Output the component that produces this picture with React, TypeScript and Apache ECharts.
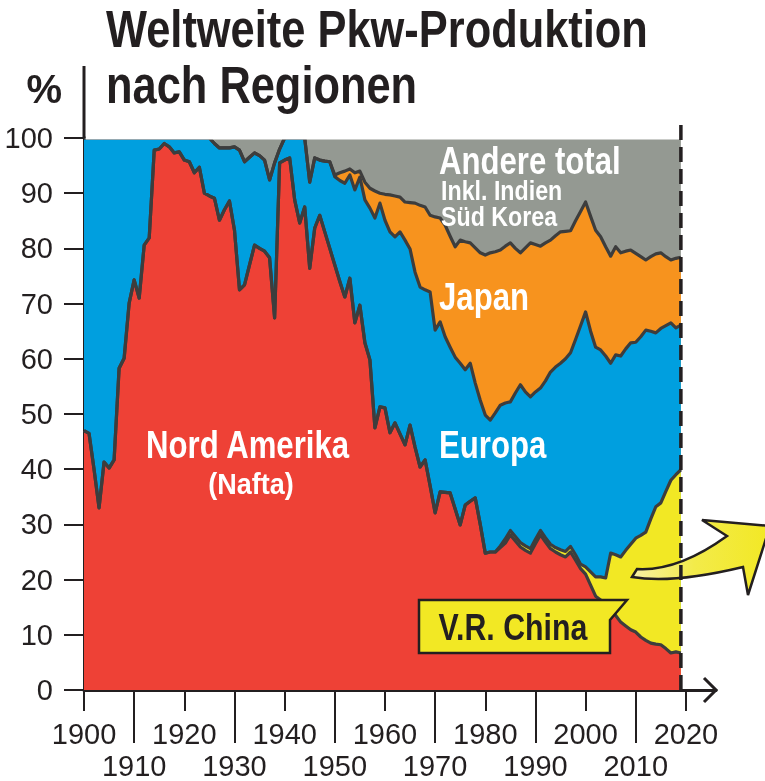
import React, { useEffect, useRef } from "react";
import * as echarts from "echarts";

// ---- data (percent of world car production), one value per year ----
const START_YEAR = 1900;
const LAST_YEAR = 2019;

// Nord Amerika share (bottom band)
const nordAmerika = [
  47, 46.5, 40, 33, 41.3, 40.2, 41.7, 58.3, 60.1, 70.1,
  74.3, 71, 80.6, 81.9, 97.8, 98, 99, 98.4, 97.3, 97.5,
  96, 95.7, 93.7, 94.7, 90, 89.5, 89.1, 85.1, 87, 88.6,
  83.3, 72.5, 73.4, 77, 80.6, 80, 79.5, 78.3, 67.4, 95.5,
  96, 96.4, 88.8, 84.6, 87.5, 76.4, 83.7, 86, 83, 80,
  77, 74, 71.2, 74.6, 66.5, 69.7, 62.9, 59.8, 47.5, 51.3,
  51.1, 46.6, 48.4, 46.4, 44.4, 48, 44, 40.4, 41.7, 37,
  32.1, 35.9, 35.8, 35.7, 32.8, 29.9, 33.5, 34.2, 34.8, 30,
  24.8, 25, 25, 25.8, 26.6, 28.1, 27, 25.9, 25.3, 24.8,
  26.5, 28.1, 26.8, 25.6, 25, 24.5, 24.1, 25, 23.5, 22,
  21, 19, 17, 16.3, 15.6, 15, 13.5, 12.3, 11.6, 10.9,
  10.5, 9.6, 9, 8.5, 8.3, 8.2, 7.5, 6.7, 6.9, 6.7,
];

// V.R. China share, from 1983 on (0 before)
const CHINA_FROM = 1983;
const china = [
  0.3, 0.8, 0.8, 0.8, 0.8, 0.8, 0.8,
  0.8, 0.8, 0.8, 0.8, 0.8, 0.9, 1.0, 1.0, 1.0, 0.8,
  1.3, 2.4, 3.5, 4.2, 4.7, 9.8, 11, 11.8, 13.7, 15.5,
  17, 18.4, 19.6, 22.5, 24.9, 25.7, 28.5, 31.3, 32.1, 33.2,
];

// upper edge of the Europa band (cumulative %)
const bisEuropa = [
  100, 100, 100, 100, 100, 100, 100, 100, 100, 100,
  100, 100, 100, 100, 100, 100, 100, 100, 100, 100,
  100, 100, 100, 100, 100, 100, 99, 98.2, 98.2, 98.2,
  98.4, 97.8, 95.7, 96.5, 97.3, 96.8, 96, 92.4, 95.5, 98,
  100, 100, 100, 100, 100, 92, 96.4, 96, 95.8, 95.7,
  93, 92.3, 91.8, 93.3, 90.6, 92.9, 88.8, 87.3, 85.5, 88.2,
  85.1, 83, 82.1, 83, 81.5, 79.9, 75.7, 73, 72.5, 72.1,
  65.2, 66.7, 64, 62.1, 60.3, 59.2, 58, 59.2, 55.6, 52.5,
  49.8, 48.9, 50.2, 51.6, 52, 52.2, 53.8, 55.3, 54, 53.1,
  54, 54.7, 56, 57.6, 58.5, 59.2, 60, 61.1, 63.5, 66,
  68.5, 65, 62.1, 61.6, 60.5, 59.2, 60.7, 60.5, 61.8, 62.9,
  63, 64, 65.2, 65, 64.7, 65.5, 66, 66.5, 65.6, 66.1,
];

// upper edge of the Japan band (cumulative %); above it: Andere total
const bisJapan = [
  100, 100, 100, 100, 100, 100, 100, 100, 100, 100,
  100, 100, 100, 100, 100, 100, 100, 100, 100, 100,
  100, 100, 100, 100, 100, 100, 99, 98.2, 98.2, 98.2,
  98.4, 97.8, 95.7, 96.5, 97.3, 96.8, 96, 92.4, 95.5, 98,
  100, 100, 100, 100, 100, 92, 96.4, 96, 95.8, 95.7,
  93.3, 93.7, 94, 94.4, 93.7, 94, 92, 90.9, 90.4, 90,
  89.8, 89.7, 89.5, 89.3, 88.4, 88.3, 88.2, 87.8, 87.5, 86,
  85.7, 85.5, 84.2, 82.2, 80.3, 81.5, 81.2, 81, 80.1, 79.2,
  78.8, 79.2, 79.4, 79.7, 80.4, 81, 80, 79.2, 80.1, 81,
  80.7, 80.4, 81, 81.5, 82.3, 83, 83.1, 83.2, 85, 86.7,
  88.4, 85.8, 83.3, 82.1, 80.3, 78.6, 80.3, 79.2, 79.5, 79.7,
  79.1, 78.5, 77.9, 78.5, 79, 79.2, 78.5, 77.9, 78.2, 78.4,
];

const evenDecades = [1900, 1920, 1940, 1960, 1980, 2000, 2020];
const oddDecades = [1910, 1930, 1950, 1970, 1990, 2010];
const yTicks = [0, 10, 20, 30, 40, 50, 60, 70, 80, 90, 100];

// ---- styling ----
const FONT = '"Liberation Sans", Arial, sans-serif';
const INK = "#231f20";
const EDGE = "#3d3d3d";
const C_RED = "#ee4136";
const C_YELLOW = "#f2e824";
const C_BLUE = "#009fdf";
const C_ORANGE = "#f7931e";
const C_GRAY = "#949992";

const ARROW_D =
  "M632 577 L637 569 Q678 571.5 727 536 L702 520 L770 526 L748 595 L743 567 Q672.5 584 632 577 Z";
echarts.graphic.registerShape("pfeil", echarts.graphic.extendPath(ARROW_D, {}));

export default function App() {
  const ref = useRef<HTMLDivElement>(null);

  useEffect(() => {
    const el = ref.current!;
    const chart = echarts.init(el, null, { renderer: "svg" });

    const years = nordAmerika.map((_, i) => START_YEAR + i);
    const chinaOf = (y: number) => (y >= CHINA_FROM ? china[y - CHINA_FROM] : 0);

    const naData = years.map((y, i) => [y, nordAmerika[i]]);
    const chinaData = years.map((y, i) => [y, +(nordAmerika[i] + chinaOf(y)).toFixed(2)]);
    const euData = years.map((y, i) => [y, bisEuropa[i]]);
    const jpData = years.map((y, i) => [y, bisJapan[i]]);
    const otherData = years.map((y) => [y, 100]);

    const band = (name: string, data: number[][], color: string, lw = 3.2) => ({
      name,
      type: "line",
      data,
      symbol: "none",
      showSymbol: false,
      clip: true,
      lineStyle: { color: EDGE, width: lw, join: "round" },
      areaStyle: { color, opacity: 1 },
      emphasis: { disabled: true },
    });

    const axisText = {
      fontSize: 29,
      fontFamily: FONT,
      color: INK,
      formatter: (v: number) => String(v),
    };

    chart.setOption({
      animation: false,
      grid: { left: 84, top: 138, width: 632, bottom: 91, containLabel: false },
      xAxis: [
        {
          type: "value",
          position: "bottom",
          min: 1900,
          max: 2026,
          interval: 10,
          axisLine: { show: true, lineStyle: { color: INK, width: 3 } },
          axisTick: { show: true, customValues: evenDecades, length: 21, lineStyle: { color: INK, width: 2 } },
          axisLabel: { show: true, customValues: evenDecades, margin: 29, ...axisText },
          splitLine: { show: false },
        },
        {
          type: "value",
          position: "bottom",
          min: 1900,
          max: 2026,
          interval: 10,
          axisLine: { show: false },
          axisTick: { show: true, customValues: oddDecades, length: 53, lineStyle: { color: INK, width: 2 } },
          axisLabel: { show: true, customValues: oddDecades, margin: 61, ...axisText },
          splitLine: { show: false },
        },
      ],
      yAxis: {
        type: "value",
        min: 0,
        max: 100,
        interval: 10,
        axisLine: { show: true, lineStyle: { color: INK, width: 3 } },
        axisTick: { show: true, customValues: yTicks, length: 20, lineStyle: { color: INK, width: 2 } },
        axisLabel: { show: true, customValues: yTicks, margin: 31, ...axisText },
        splitLine: { show: false },
      },
      series: [
        band("Andere total", otherData, C_GRAY, 0),
        band("Japan", jpData, C_ORANGE),
        band("Europa", euData, C_BLUE),
        band("V.R. China", chinaData, C_YELLOW),
        band("Nord Amerika", naData, C_RED),
      ],
    });

    const xEnd = chart.convertToPixel({ xAxisIndex: 0 }, LAST_YEAR) as number;
    const xAxisEnd = chart.convertToPixel({ xAxisIndex: 0 }, 2026) as number;
    const yZero = chart.convertToPixel({ yAxisIndex: 0 }, 0) as number;
    const yTop = chart.convertToPixel({ yAxisIndex: 0 }, 100) as number;
    const xZero = chart.convertToPixel({ xAxisIndex: 0 }, 1900) as number;

    const txt = (
      text: string,
      x: number,
      y: number,
      size: number,
      fill: string,
      align = "left",
      sx = 0.82
    ) => ({
      type: "text",
      x,
      y,
      z: 50,
      scaleX: sx,
      style: { text, fill, fontSize: size, fontWeight: "bold", fontFamily: FONT, align, verticalAlign: "middle" },
    });

    chart.setOption({
      graphic: {
        elements: [
          // hide the half edge line where a band touches the 100 % top
          {
            type: "rect",
            z: 40,
            shape: { x: xZero + 1.6, y: yTop - 3, width: xEnd - xZero - 1.6, height: 4.6 },
            style: { fill: "#ffffff" },
          },
          txt("Weltweite Pkw-Produktion", 106, 29, 52, INK, "left", 0.835),
          txt("nach Regionen", 106, 85, 52, INK, "left", 0.835),
          txt("%", 62, 89, 40, INK, "right", 1),
          {
            type: "line",
            z: 50,
            shape: { x1: xZero, y1: 66, x2: xZero, y2: yTop },
            style: { stroke: INK, lineWidth: 3 },
          },
          {
            type: "polyline",
            z: 50,
            shape: { points: [[xAxisEnd - 12, yZero - 12], [xAxisEnd, yZero], [xAxisEnd - 12, yZero + 12]] },
            style: { stroke: INK, lineWidth: 3, fill: null },
          },
          txt("Andere total", 439, 161, 38, "#ffffff"),
          txt("Inkl. Indien", 441, 190, 27, "#ffffff", "left", 0.86),
          txt("Süd Korea", 441, 216, 27, "#ffffff", "left", 0.86),
          txt("Japan", 439, 297, 38, "#ffffff"),
          txt("Europa", 439, 445, 38, "#ffffff"),
          txt("Nord Amerika", 146, 445, 38, "#ffffff"),
          txt("(Nafta)", 251, 483, 30, "#ffffff", "center", 0.9),
          {
            type: "polygon",
            z: 50,
            shape: { points: [[419, 600], [627, 600], [610, 620], [610, 653], [419, 653]] },
            style: { fill: C_YELLOW, stroke: INK, lineWidth: 2.5, lineJoin: "miter" },
          },
          txt("V.R. China", 513, 627, 37, INK, "center"),
          {
            type: "pfeil",
            z: 55,
            x: 0,
            y: 0,
            style: {
              fill: new echarts.graphic.LinearGradient(0, 0, 1, 0, [
                { offset: 0, color: "#f6f1a6" },
                { offset: 0.45, color: "#f3eb4a" },
                { offset: 1, color: C_YELLOW },
              ]),
              stroke: INK,
              lineWidth: 2.5,
              lineJoin: "miter",
            },
          },
          {
            type: "line",
            z: 60,
            shape: { x1: xEnd, y1: 125, x2: xEnd, y2: yZero },
            style: { stroke: INK, lineWidth: 3.5, lineDash: [15, 7] },
          },
        ],
      },
    });

    return () => chart.dispose();
  }, []);

  return <div ref={ref} style={{ position: "fixed", left: 0, top: 0, width: 765, height: 781 }} />;
}
